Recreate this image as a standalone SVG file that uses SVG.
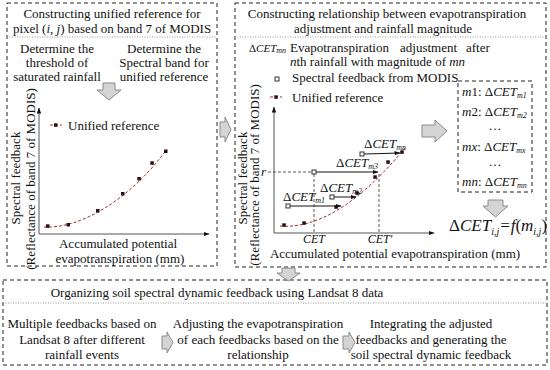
<svg xmlns="http://www.w3.org/2000/svg" width="550" height="370" viewBox="0 0 550 370" font-family="'Liberation Serif','Times New Roman',serif">
<defs>
<marker id="ah" markerWidth="6" markerHeight="6" refX="5.5" refY="3" orient="auto" markerUnits="userSpaceOnUse"><path d="M0,0.8 L6,3 L0,5.2 Z" fill="#111"/></marker>
</defs>
<style>
text{font-family:"Liberation Serif","Times New Roman",serif;font-size:13px;fill:#111}
.c{text-anchor:middle}
.i{font-style:italic}
.box{fill:none;stroke:#222;stroke-width:1;stroke-dasharray:4 3}
.sep{stroke:#999;stroke-width:1;stroke-dasharray:1 1.5}
.axis{stroke:#555;stroke-width:1;fill:none}
.curve{fill:none;stroke:#a0302e;stroke-width:1;stroke-dasharray:3 2}
.pt{fill:#2a1010}
.hp{fill:#fff;stroke:#333;stroke-width:1}
.blk{fill:#d4d4d4;stroke:#8a8a8a;stroke-width:1}
.dl{stroke:#333;stroke-width:0.8;stroke-dasharray:3 2;fill:none}
.arr{stroke:#111;stroke-width:1;fill:none}
</style>
<rect width="550" height="370" fill="#fff"/>

<g id="box-unified">
<rect class="box" x="7" y="3" width="210" height="263"/>
<line class="sep" x1="7" y1="37" x2="217" y2="37"/>
<text class="c" x="112" y="18">Constructing unified reference for</text>
<text class="c" x="112" y="33">pixel (<tspan class="i">i</tspan>, <tspan class="i">j</tspan>) based on band 7 of MODIS</text>
<text class="c" x="57" y="53">Determine the</text>
<text class="c" x="57" y="67">threshold of</text>
<text class="c" x="57" y="81">saturated rainfall</text>
<text class="c" x="164" y="53">Determine the</text>
<text class="c" x="164" y="67">Spectral band for</text>
<text class="c" x="164" y="81">unified reference</text>
<polygon class="blk" points="103,83 115,83 115,90 121,90 109,100 97,90 103,90"/>
<line class="axis" x1="39" y1="234" x2="39" y2="108" marker-end="url(#ah)"/>
<line class="axis" x1="39" y1="234" x2="209" y2="234" marker-end="url(#ah)"/>
<line class="curve" x1="50" y1="125" x2="62" y2="125"/>
<rect class="pt" x="54" y="123.3" width="3.5" height="3.5"/>
<text x="68" y="130">Unified reference</text>
<path class="curve" d="M44,227 C80,229 130,200 167,149"/>
<g class="pt">
<rect x="46" y="224.3" width="3.5" height="3.5"/>
<rect x="66.5" y="223" width="3.5" height="3.5"/>
<rect x="96" y="209" width="3.5" height="3.5"/>
<rect x="121" y="192" width="3.5" height="3.5"/>
<rect x="137.3" y="177" width="3.5" height="3.5"/>
<rect x="150.3" y="161.3" width="3.5" height="3.5"/>
<rect x="164" y="149.6" width="3.5" height="3.5"/>
</g>
<text class="c" transform="translate(20,178) rotate(-90)">Spectral feedback</text>
<text class="c" transform="translate(35,179) rotate(-90)">(Reflectance of band 7 of MODIS)</text>
<text class="c" x="118" y="248">Accumulated potential</text>
<text class="c" x="120" y="263">evapotranspiration (mm)</text>
</g>

<g id="box-relationship">
<rect class="box" x="235" y="3" width="311" height="264"/>
<line class="sep" x1="235" y1="37" x2="546" y2="37"/>
<text class="c" x="387" y="18">Constructing relationship between evapotranspiration</text>
<text class="c" x="383" y="33">adjustment and rainfall magnitude</text>
<text x="249" y="52" style="font-size:11px">Δ<tspan class="i">CET</tspan><tspan class="i" font-size="8" dy="1">mn</tspan></text>
<text x="290" y="52">Evapotranspiration</text>
<text x="400" y="52">adjustment</text>
<text x="466" y="52">after</text>
<text x="290" y="66"><tspan class="i">n</tspan>th rainfall with magnitude of <tspan class="i">mn</tspan></text>
<rect class="hp" x="275" y="77" width="4" height="4"/>
<text x="292" y="82">Spectral feedback from MODIS</text>
<line class="curve" x1="270" y1="97" x2="282" y2="97"/>
<rect class="pt" x="274.3" y="95.3" width="3.5" height="3.5"/>
<text x="292" y="102">Unified reference</text>
<line class="axis" x1="274" y1="233" x2="274" y2="107" marker-end="url(#ah)"/>
<line class="axis" x1="274" y1="233" x2="434" y2="233" marker-end="url(#ah)"/>
<text class="c" transform="translate(247,178) rotate(-90)">Spectral feedback</text>
<text class="c" transform="translate(259,175) rotate(-90)">(Reflectance of band 7 of MODIS)</text>
<text class="i" x="266" y="176" style="text-anchor:end">r</text>
<line class="dl" x1="268" y1="172" x2="312" y2="172"/>
<line class="dl" x1="314" y1="174" x2="314" y2="233"/>
<line class="dl" x1="379" y1="174" x2="379" y2="233"/>
<path class="curve" d="M280,226 C320,229 362,200 405,148"/>
<g class="pt">
<rect x="282.3" y="223.3" width="3.5" height="3.5"/>
<rect x="302.3" y="221.3" width="3.5" height="3.5"/>
<rect x="334.3" y="205.3" width="3.5" height="3.5"/>
<rect x="355.3" y="191.3" width="3.5" height="3.5"/>
<rect x="373.3" y="175.3" width="3.5" height="3.5"/>
<rect x="386.3" y="160.3" width="3.5" height="3.5"/>
<rect x="400.3" y="150.3" width="3.5" height="3.5"/>
</g>
<line class="arr" x1="290" y1="206" x2="341" y2="206" marker-end="url(#ah)"/>
<line class="arr" x1="334" y1="197" x2="356" y2="197" marker-end="url(#ah)"/>
<line class="arr" x1="316" y1="172" x2="378" y2="172" marker-end="url(#ah)"/>
<line class="arr" x1="364" y1="154" x2="400" y2="153" marker-end="url(#ah)"/>
<rect class="hp" x="286" y="204" width="4" height="4"/>
<rect class="hp" x="330" y="195" width="4" height="4"/>
<rect class="hp" x="312" y="170" width="4" height="4"/>
<rect class="hp" x="360" y="152" width="4" height="4"/>
<text x="283" y="201">Δ<tspan class="i">CET</tspan><tspan class="i" font-size="8" dy="2">m1</tspan></text>
<text x="320" y="192">Δ<tspan class="i">CET</tspan><tspan class="i" font-size="8" dy="2">m2</tspan></text>
<text x="336" y="167">Δ<tspan class="i">CET</tspan><tspan class="i" font-size="8" dy="2">m3</tspan></text>
<text x="364" y="148">Δ<tspan class="i">CET</tspan><tspan class="i" font-size="8" dy="2">mn</tspan></text>
<text class="c i" x="314" y="243" style="font-size:12px">CET</text>
<text class="c i" x="380" y="243" style="font-size:12px">CET'</text>
<text class="c" x="395" y="258">Accumulated potential evapotranspiration (mm)</text>
</g>

<g id="list-box">
<rect class="box" x="458" y="81" width="74" height="111"/>
<text x="462" y="96"><tspan class="i">m</tspan>1: Δ<tspan class="i">CET</tspan><tspan class="i" font-size="8" dy="2">m1</tspan></text>
<text x="462" y="116"><tspan class="i">m</tspan>2: Δ<tspan class="i">CET</tspan><tspan class="i" font-size="8" dy="2">m2</tspan></text>
<text class="c" x="495" y="130">…</text>
<text x="462" y="151"><tspan class="i">mx</tspan>: Δ<tspan class="i">CET</tspan><tspan class="i" font-size="8" dy="2">mx</tspan></text>
<text class="c" x="495" y="166">…</text>
<text x="462" y="186"><tspan class="i">mn</tspan>: Δ<tspan class="i">CET</tspan><tspan class="i" font-size="8" dy="2">mn</tspan></text>
</g>

<g id="formula">
<text x="449" y="231" style="font-size:17px">Δ<tspan class="i">CET</tspan><tspan class="i" font-size="10" dy="4">i,j</tspan><tspan class="i" dy="-4">=f</tspan>(<tspan class="i">m</tspan><tspan class="i" font-size="10" dy="4">i,j</tspan><tspan dy="-4">)</tspan></text>
</g>

<g id="box-organizing">
<rect class="box" x="3" y="280" width="544" height="85"/>
<line class="sep" x1="3" y1="303" x2="547" y2="303"/>
<text class="c" x="217" y="297">Organizing soil spectral dynamic feedback using Landsat 8 data</text>
<text class="c" x="82" y="328">Multiple feedbacks based on</text>
<text class="c" x="82" y="344">Landsat 8 after different</text>
<text class="c" x="82" y="359">rainfall events</text>
<text class="c" x="258" y="328">Adjusting the evapotranspiration</text>
<text class="c" x="258" y="344">of each feedbacks based on the</text>
<text class="c" x="258" y="359">relationship</text>
<text class="c" x="431" y="328">Integrating the adjusted</text>
<text class="c" x="431" y="344">feedbacks and generating the</text>
<text class="c" x="431" y="359">soil spectral dynamic feedback</text>
</g>

<g id="connectors">
<polygon class="blk" points="220,122 225,122 225,117 231,129.5 225,142 225,137 220,137"/>
<polygon class="blk" points="422,125 435,125 435,120 447,131 435,142 435,137 422,137"/>
<polygon class="blk" points="488,200 503,200 503,206 508,206 495.5,217 483,206 488,206"/>
<polygon class="blk" points="282,268 295,268 295,273 300,273 288.5,281 277,273 282,273"/>
<polygon class="blk" points="162,336 167,336 167,332 173,342.5 167,353 167,349 162,349"/>
<polygon class="blk" points="343,336 349,336 349,332 355,342.5 349,353 349,349 343,349"/>
</g>
</svg>
